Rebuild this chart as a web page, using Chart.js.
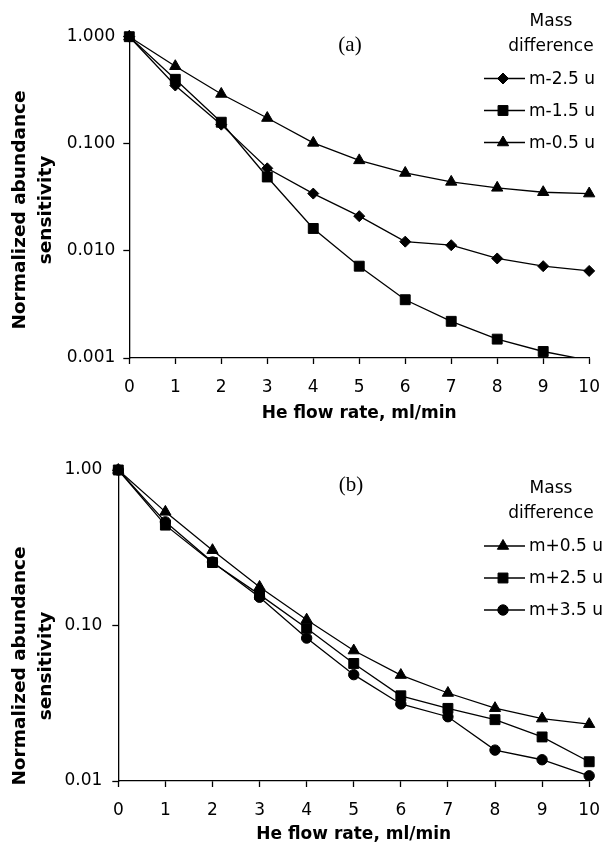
<!DOCTYPE html>
<html lang="en">
<head>
<meta charset="UTF-8">
<title>Normalized abundance sensitivity vs He flow rate</title>
<script src="https://cdn.jsdelivr.net/npm/chart.js"></script>
<style>
    body {
        margin: 0;
        background: #ffffff;
        width: 613px;
        height: 845px;
        overflow: hidden;
        position: relative;
    }
    .panel {
        position: absolute;
        left: 0;
        width: 613px;
    }
    #panelA { top: 0; height: 425px; }
    #panelB { top: 440px; height: 405px; }
</style>
</head>
<body>

<div class="panel" id="panelA"><canvas id="chartA" width="613" height="425"></canvas></div>
<div class="panel" id="panelB"><canvas id="chartB" width="613" height="405"></canvas></div>

<script>
// data
const flowRate = [0, 1, 2, 3, 4, 5, 6, 7, 8, 9, 10];

// panel (a)
const labelsA = ['m-2.5 u', 'm-1.5 u', 'm-0.5 u'];
const minus25 = [1.0, 0.35, 0.151, 0.059, 0.0343, 0.0211, 0.0122, 0.0113, 0.0085, 0.0072, 0.0065];
const minus15 = [1.0, 0.40, 0.159, 0.049, 0.0162, 0.0072, 0.0035, 0.0022, 0.0015, 0.00115, 0.00095];
const minus05 = [1.0, 0.53, 0.292, 0.174, 0.102, 0.070, 0.0534, 0.0441, 0.0388, 0.0353, 0.0343];
const yTicksA = [0.001, 0.01, 0.1, 1];

// panel (b)
const labelsB = ['m+0.5 u', 'm+2.5 u', 'm+3.5 u'];
const plus05 = [1.0, 0.538, 0.305, 0.177, 0.109, 0.069, 0.048, 0.0368, 0.0294, 0.0252, 0.0232];
const plus25 = [1.0, 0.442, 0.254, 0.158, 0.096, 0.057, 0.0353, 0.0293, 0.0248, 0.0192, 0.0133];
const plus35 = [1.0, 0.464, 0.256, 0.152, 0.083, 0.0483, 0.0313, 0.0259, 0.0158, 0.0137, 0.0108];
const yTicksB = [0.01, 0.1, 1];

const xTitle = 'He flow rate, ml/min';
const yTitle = ['Normalized abundance', 'sensitivity'];
const legendTitle = ['Mass', 'difference'];

const FONT = '"DejaVu Sans", sans-serif';
const markerRadius = { rectRot: 5.5, rect: 7, triangle: 6.5, circle: 5.2 };

function series(values, label, style, yMin) {
    return {
        label: label,
        data: values.map((v, i) => ({ x: flowRate[i], y: v })),
        borderColor: '#000',
        backgroundColor: '#000',
        borderWidth: 1.3,
        pointStyle: style,
        // marks below the axis minimum are cut off like in the original
        pointRadius: ctx => (ctx.raw && ctx.raw.y < yMin ? 0 : markerRadius[style]),
        pointBorderWidth: 1,
        tension: 0,
        clip: { left: 12, top: 12, right: 12, bottom: 0 }
    };
}

// legend, panel letter and y title are drawn in the free space of the canvas
const panelDecor = {
    id: 'panelDecor',
    afterDraw(chart, args, opts) {
        const ctx = chart.ctx;
        ctx.save();
        ctx.fillStyle = '#000';
        ctx.strokeStyle = '#000';

        ctx.font = '21px "Liberation Serif", serif';
        ctx.textAlign = 'center';
        ctx.textBaseline = 'middle';
        ctx.fillText(opts.letter, opts.letterX, opts.letterY);

        ctx.save();
        ctx.translate(opts.yTitleX, opts.yTitleY);
        ctx.rotate(-Math.PI / 2);
        ctx.font = 'bold 18.5px ' + FONT;
        yTitle.forEach((t, i) => ctx.fillText(t, 0, i * 26));
        ctx.restore();

        ctx.font = '17px ' + FONT;
        legendTitle.forEach((t, i) => ctx.fillText(t, 551, opts.legendTop + i * 25));

        ctx.textAlign = 'left';
        chart.data.datasets.forEach((ds, i) => {
            const y = opts.legendTop + 57 + i * 32;
            ctx.lineWidth = 1.3;
            ctx.beginPath();
            ctx.moveTo(484, y);
            ctx.lineTo(525, y);
            ctx.stroke();
            ctx.lineWidth = 1;
            Chart.helpers.drawPoint(ctx, {
                pointStyle: ds.pointStyle,
                radius: markerRadius[ds.pointStyle],
                borderWidth: 1
            }, 503, y);
            ctx.fillText(ds.label, 529, y + 1);
        });
        ctx.restore();
    }
};

function makeChart(id, datasets, yMin, yTicks, digits, box, decor) {
    return new Chart(document.getElementById(id), {
        type: 'line',
        data: { datasets: datasets },
        plugins: [panelDecor],
        options: {
            responsive: false,
            animation: false,
            devicePixelRatio: 1,
            layout: {
                autoPadding: false,
                padding: { top: box.top, right: box.right, left: 0, bottom: 0 }
            },
            plugins: {
                legend: { display: false },
                tooltip: { enabled: false },
                panelDecor: decor
            },
            scales: {
                x: {
                    type: 'linear',
                    min: 0,
                    max: 10,
                    afterFit: s => { s.height = box.xHeight; },
                    ticks: {
                        stepSize: 1,
                        color: '#000',
                        padding: 13,
                        font: { family: FONT, size: 17 }
                    },
                    grid: { drawOnChartArea: false, tickLength: 6, tickColor: '#000', tickWidth: 1.3 },
                    border: { color: '#000', width: 1.3 },
                    title: {
                        display: true,
                        text: xTitle,
                        color: '#000',
                        padding: { top: 0, bottom: box.titlePad },
                        font: { family: FONT, size: 17, weight: 'bold' }
                    }
                },
                y: {
                    type: 'logarithmic',
                    min: yMin,
                    max: 1,
                    afterFit: s => { s.width = box.left; },
                    afterBuildTicks: s => { s.ticks = yTicks.map(v => ({ value: v })); },
                    ticks: {
                        color: '#000',
                        padding: box.yPad,
                        font: { family: FONT, size: 17 },
                        callback: v => Number(v).toFixed(digits)
                    },
                    grid: { drawOnChartArea: false, tickLength: 6, tickColor: '#000', tickWidth: 1.3 },
                    border: { color: '#000', width: 1.3 }
                }
            }
        }
    });
}

makeChart('chartA', [
    series(minus25, labelsA[0], 'rectRot', 0.001),
    series(minus15, labelsA[1], 'rect', 0.001),
    series(minus05, labelsA[2], 'triangle', 0.001)
], 0.001, yTicksA, 3,
    { top: 36.7, right: 12.5, left: 129.3, xHeight: 67, titlePad: 1, yPad: 8 },
    { letter: '(a)', letterX: 350, letterY: 45, yTitleX: 20, yTitleY: 210, legendTop: 21.5 });

makeChart('chartB', [
    series(plus05, labelsB[0], 'triangle', 0.01),
    series(plus25, labelsB[1], 'rect', 0.01),
    series(plus35, labelsB[2], 'circle', 0.01)
], 0.01, yTicksB, 2,
    { top: 30, right: 21.7, left: 118.3, xHeight: 64, titlePad: 0, yPad: 10 },
    { letter: '(b)', letterX: 351, letterY: 45, yTitleX: 20, yTitleY: 226, legendTop: 49 });
</script>
</body>
</html>
